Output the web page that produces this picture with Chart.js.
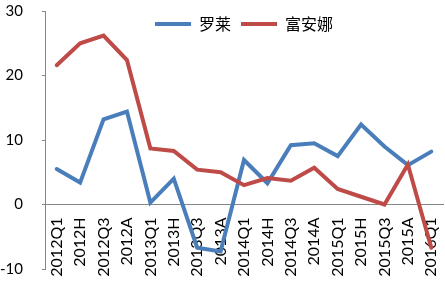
<!DOCTYPE html>
<html>
<head>
<meta charset="utf-8">
<script src="https://cdn.jsdelivr.net/npm/chart.js@4/dist/chart.umd.min.js"></script>
<style>
  html, body { margin: 0; padding: 0; background: #fff; }
  #wrap { width: 445px; height: 287px; }
</style>
</head>
<body>
<div id="wrap"><canvas id="grafico"></canvas></div>
<script>
const periodos = ['2012Q1', '2012H', '2012Q3', '2012A', '2013Q1', '2013H', '2013Q3', '2013A',
    '2014Q1', '2014H', '2014Q3', '2014A', '2015Q1', '2015H', '2015Q3', '2015A', '2016Q1'];
const luolai = [5.5, 3.4, 13.2, 14.4, 0.3, 4.0, -6.7, -7.3, 6.9, 3.3, 9.2, 9.5, 7.5, 12.4, 9.0, 6.1, 8.2];
const fuanna = [21.6, 25.0, 26.2, 22.4, 8.7, 8.3, 5.4, 5.0, 3.0, 4.1, 3.7, 5.7, 2.4, 1.2, 0.0, 6.2, -6.7];
const yTicks = [-10, 0, 10, 20, 30];

const azul = '#4A7EBB';
const vermelho = '#BE4B48';
const cinza = '#868686';

// legenda desenhada sobre a área do gráfico, sem ocupar espaço no layout
const legendaSobre = {
    id: 'legendaSobre',
    beforeLayout(chart) {
        const lg = chart.legend;
        if (lg && !lg._sobre) {
            const fit = lg.fit;
            lg.fit = function () { fit.call(this); this._h = this.height; this.height = 0; };
            lg._sobre = true;
        }
    },
    afterLayout(chart) {
        const lg = chart.legend;
        if (lg) { lg.top = 6; lg.height = lg._h; lg.bottom = lg.top + lg._h; }
    }
};

const ctx = document.getElementById('grafico').getContext('2d');

new Chart(ctx, {
    type: 'line',
    data: {
        labels: periodos,
        datasets: [
            {
                label: '罗莱',
                data: luolai,
                borderColor: azul,
                backgroundColor: azul,
                borderWidth: 4,
                borderCapStyle: 'round',
                pointRadius: 0,
                tension: 0,
                order: 1
            },
            {
                label: '富安娜',
                data: fuanna,
                borderColor: vermelho,
                backgroundColor: vermelho,
                borderWidth: 4,
                borderCapStyle: 'round',
                pointRadius: 0,
                tension: 0,
                order: 0
            }
        ]
    },
    options: {
        responsive: true,
        maintainAspectRatio: false,
        animation: false,
        layout: { padding: { top: 11, bottom: 18, left: 0, right: 2 } },
        plugins: {
            tooltip: { enabled: false },
            legend: {
                position: 'top',
                fullSize: false,
                labels: {
                    usePointStyle: true,
                    pointStyle: 'line',
                    pointStyleWidth: 36,
                    padding: 10,
                    color: '#000',
                    font: { family: '"Noto Sans CJK SC"', size: 16 },
                    sort: (a, b) => a.datasetIndex - b.datasetIndex
                }
            }
        },
        scales: {
            x: {
                position: { y: 0 },
                offset: true,
                grid: { drawOnChartArea: false, drawTicks: false },
                border: { display: true, color: cinza, width: 1 },
                ticks: {
                    autoSkip: false,
                    minRotation: 90,
                    maxRotation: 90,
                    padding: 13,
                    color: '#000',
                    font: { family: 'Lato', size: 16 }
                },
                afterFit(scale) {
                    scale.paddingLeft = 0;
                    scale.paddingRight = 0;
                }
            },
            y: {
                min: -10,
                max: 30,
                grid: { drawOnChartArea: false, drawTicks: true, tickLength: 3, color: cinza },
                border: { display: true, color: cinza, width: 1 },
                afterBuildTicks(scale) {
                    scale.ticks = yTicks.map(v => ({ value: v }));
                },
                ticks: {
                    padding: 19,
                    color: '#000',
                    font: { family: 'Lato', size: 15 }
                },
                afterFit(scale) {
                    scale.width = 45;
                    scale.paddingTop = 0;
                    scale.paddingBottom = 0;
                }
            }
        }
    },
    plugins: [legendaSobre]
});
</script>
</body>
</html>
